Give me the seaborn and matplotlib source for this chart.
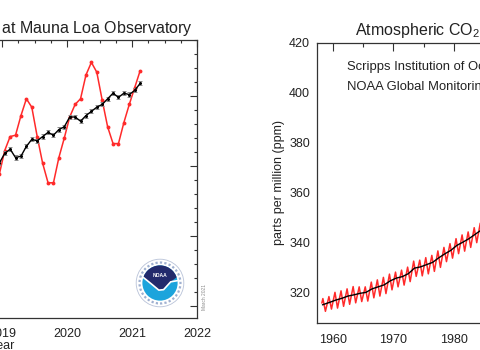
import numpy as np
import pandas as pd
import matplotlib
matplotlib.use('Agg')
import matplotlib.pyplot as plt
from matplotlib.ticker import MultipleLocator
from matplotlib.patches import Circle, Polygon
import seaborn as sns

sns.set_theme(style="white")
plt.rcParams['font.family'] = ['Liberation Sans', 'DejaVu Sans']
plt.rcParams['mathtext.fontset'] = 'custom'
plt.rcParams['mathtext.rm'] = 'Liberation Sans'

# -----------------------------------------------------------------------------
# Data — left panel: recent monthly means (Nov 2018 .. Feb 2021), ppm
# -----------------------------------------------------------------------------
recent_start, recent_end = '2018-11', '2021-02'
recent_monthly = [408.3, 409.4,
                  411.1, 412.1, 412.2, 413.6, 414.8, 414.2, 412.1, 410.2, 408.8, 408.8, 410.6, 412.0,
                  413.5, 414.4, 414.8, 416.5, 417.4, 416.7, 414.7, 412.8, 411.6, 411.6, 413.1, 414.4,
                  415.6, 416.8]
recent_trend = [409.9, 410.2,
                410.9, 411.2, 410.6, 410.7, 411.4, 411.9, 411.8, 412.1, 412.4, 412.2, 412.6, 412.8,
                413.5, 413.5, 413.2, 413.6, 413.9, 414.2, 414.4, 414.8, 415.2, 414.9, 415.2, 415.1,
                415.4, 415.9]
recent_years = [2016, 2017, 2018, 2019, 2020, 2021, 2022]
recent_year_labels = ['', '', '', '2019', '2020', '2021', '2022']   # left ones fall off the crop

# -----------------------------------------------------------------------------
# Data — right panel: full record, 1958 .. 1986 (visible part)
# -----------------------------------------------------------------------------
years = list(range(1958, 1987))
annual_trend = [315.2, 316.0, 316.9, 317.6, 318.5, 319.0, 319.6, 320.0, 321.4, 322.2,
                323.0, 324.6, 325.7, 326.3, 327.5, 329.7, 330.2, 331.1, 332.0, 333.8,
                335.4, 336.8, 338.8, 340.1, 341.5, 343.2, 344.9, 346.4, 347.6]
may_peak = [317.5, 318.3, 320.0, 320.6, 321.4, 322.3, 322.2, 322.2, 324.1, 325.0,
            326.0, 327.3, 328.1, 328.9, 330.1, 332.5, 332.9, 333.9, 334.8, 336.6,
            338.0, 339.5, 341.5, 343.0, 344.2, 345.9, 347.7, 348.9, 350.5]
oct_trough = [312.4, 313.3, 313.7, 314.4, 315.2, 315.8, 316.3, 316.5, 317.8, 318.5,
              319.5, 321.0, 322.2, 322.9, 324.3, 326.4, 326.6, 327.4, 328.4, 330.0,
              332.3, 333.7, 335.5, 336.5, 338.0, 339.9, 341.4, 343.0, 344.3]
first_month = (1958.2, 315.7)
first_trend = (1958.3, 315.0)
decades = [1960, 1970, 1980, 1990, 2000, 2010, 2020]
decade_labels = ['1960', '1970', '1980', '', '', '', '']            # right ones fall off the crop

RED = '#ff2a2a'

# left panel table
months = pd.period_range(recent_start, recent_end, freq='M')
recent = pd.DataFrame({
    't': months.year + (months.month - 0.5) / 12,
    'monthly': recent_monthly,
    'trend': recent_trend,
})

# right panel tables
seasonal = pd.DataFrame({
    't': [first_month[0]] + [v for y in years for v in (y + 0.37, y + 0.79)],
    'ppm': [first_month[1]] + [v for p, q in zip(may_peak, oct_trough) for v in (p, q)],
})
trend = pd.DataFrame({
    't': [first_trend[0]] + [y + 0.5 for y in years[1:]],
    'ppm': [first_trend[1]] + annual_trend[1:],
})

W, H = 480, 350
fig = plt.figure(figsize=(W / 100, H / 100), dpi=100)


def px_box(x0, y0, x1, y1):
    return [x0 / W, 1 - y1 / H, (x1 - x0) / W, (y1 - y0) / H]


def style_axes(ax, major_len, minor_len):
    for s in ax.spines.values():
        s.set_color('#333333')
        s.set_linewidth(0.9)
    ax.tick_params(which='both', direction='in', top=True, right=True,
                   colors='#333333', labelcolor='#222222', labelsize=9, width=0.8)
    ax.tick_params(which='major', length=major_len)
    ax.tick_params(which='minor', length=minor_len)


# =============================================================================
# Left panel
# =============================================================================
ax1 = fig.add_axes(px_box(-193, 40, 197, 318))
sns.lineplot(data=recent, x='t', y='monthly', ax=ax1, color=RED, linewidth=1.1,
             marker='o', markersize=2.8, markeredgewidth=0)
ax1.errorbar(recent['t'], recent['trend'], yerr=0.15, fmt='none',
             ecolor='#8a8a8a', elinewidth=0.8, capsize=1.4, capthick=0.7)
sns.lineplot(data=recent, x='t', y='trend', ax=ax1, color='black', linewidth=1.0,
             marker='o', markersize=2.2, markeredgewidth=0)
ax1.set_xlim(2016, 2022)
ax1.set_ylim(399.14, 419)
ax1.set_xticks(recent_years, recent_year_labels)
ax1.xaxis.set_minor_locator(MultipleLocator(0.25))
ax1.set_yticks([400, 405, 410, 415])
ax1.yaxis.set_minor_locator(MultipleLocator(1))
ax1.set_xlabel('Year', fontsize=9, color='#222222', labelpad=0)
ax1.set_ylabel('')
style_axes(ax1, 5, 2.5)
ax1.tick_params(axis='x', pad=7)
ax1.tick_params(axis='y', labelleft=False)

fig.text(193 / W, 1 - 29 / H, 'Recent monthly mean CO$_\\mathrm{2}$ at Mauna Loa Observatory',
         ha='right', va='center', fontsize=11.5, color='#222222')
fig.text(205 / W, 1 - 297 / H, 'March 2021', rotation=90, fontsize=3.5,
         color='#8a8a8a', ha='center', va='center')

# NOAA logo
logo = fig.add_axes(px_box(135, 258, 185, 308))
logo.set_xlim(-1.05, 1.05)
logo.set_ylim(-1.05, 1.05)
logo.set_aspect('equal')
logo.axis('off')
logo.add_patch(Circle((0, 0), 1.0, facecolor='white', edgecolor='#b8c2d8', linewidth=0.6))
logo.add_patch(Circle((0, 0), 0.86, facecolor='none', edgecolor='#9fb0d0',
                      linewidth=1.6, linestyle=(0, (1, 1))))
disc = Circle((0, 0), 0.74, facecolor='#1ca4dc', edgecolor='none')
logo.add_patch(disc)
ang = np.radians(np.linspace(160, 20, 30))
upper = list(zip(0.78 * np.cos(ang), 0.78 * np.sin(ang)))
navy = Polygon(upper + [(0.45, 0.05), (0.15, -0.28), (-0.05, -0.3), (-0.35, -0.05)],
               closed=True, facecolor='#222a6c', edgecolor='none')
logo.add_patch(navy)
navy.set_clip_path(disc)
logo.plot([-0.72, -0.35, -0.05, 0.15, 0.45, 0.74], [0.25, -0.05, -0.3, -0.28, 0.05, 0.1],
          color='white', linewidth=1.2, solid_capstyle='round')
logo.text(0, 0.32, 'NOAA', color='white', fontsize=3.6, fontweight='bold',
          ha='center', va='center')

# =============================================================================
# Right panel
# =============================================================================
ax2 = fig.add_axes(px_box(317, 42.7, 705, 323.3))
sns.lineplot(data=seasonal, x='t', y='ppm', ax=ax2, color=RED, linewidth=1.1)
sns.lineplot(data=trend, x='t', y='ppm', ax=ax2, color='black', linewidth=1.0)
ax2.set_xlim(1957.4, 2021.5)
ax2.set_ylim(307.6, 420)
ax2.set_xticks(decades, decade_labels)
ax2.xaxis.set_minor_locator(MultipleLocator(5))
ax2.set_yticks(range(320, 421, 20))
ax2.yaxis.set_minor_locator(MultipleLocator(10))
ax2.set_xlabel('')
ax2.set_ylabel('parts per million (ppm)', fontsize=9, color='#222222', labelpad=3)
style_axes(ax2, 6, 3)
ax2.tick_params(axis='x', pad=8)
ax2.tick_params(axis='y', pad=5)

fig.text(355 / W, 1 - 30 / H, 'Atmospheric CO$_\\mathrm{2}$ at Mauna Loa Observatory',
         ha='left', va='center', fontsize=11.5, color='#222222')
fig.text(347 / W, 1 - 67 / H, 'Scripps Institution of Oceanography',
         ha='left', va='center', fontsize=9.4, color='#222222')
fig.text(347 / W, 1 - 87 / H, 'NOAA Global Monitoring Laboratory',
         ha='left', va='center', fontsize=9.4, color='#222222')

fig.savefig('out.png', dpi=100)
